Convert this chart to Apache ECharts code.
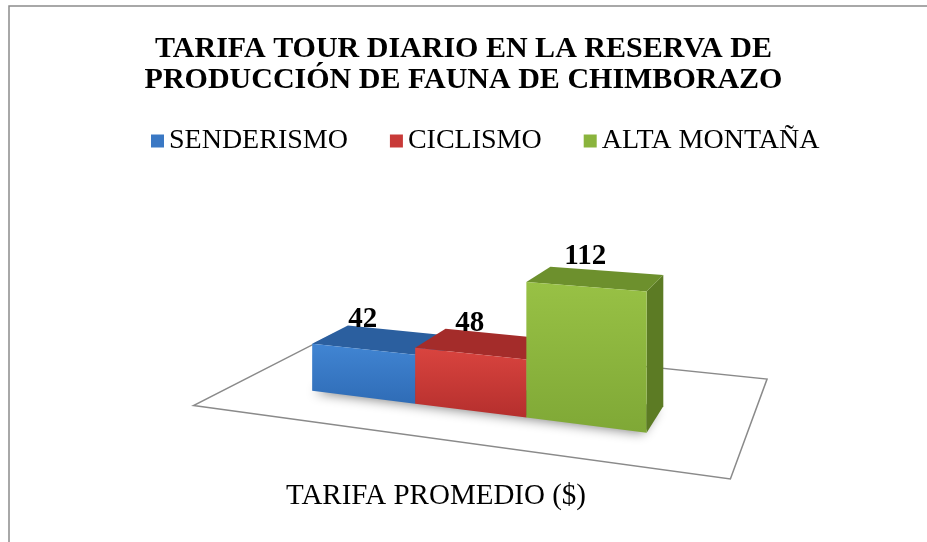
<!DOCTYPE html>
<html>
<head>
<meta charset="utf-8">
<script src="https://cdn.jsdelivr.net/npm/echarts@6/dist/echarts.min.js"></script>
<style>
  html, body { margin: 0; padding: 0; background: #ffffff; }
  #chart { width: 927px; height: 542px; }
</style>
</head>
<body>
<div id="chart"></div>
<script>
// Chart data
const chartTitle = 'TARIFA TOUR DIARIO EN LA RESERVA DE\nPRODUCCIÓN DE FAUNA DE CHIMBORAZO';
const categories = ['TARIFA PROMEDIO ($)'];
const seriesNames = ['SENDERISMO', 'CICLISMO', 'ALTA MONTAÑA'];
const senderismo = [42];
const ciclismo = [48];
const altaMontana = [112];
const valueMax = 120;

// Face colours per series: front, top, side
const palette = [
  { front: ['#4185d3', '#2f6cb6'], top: '#2b5f9f', side: '#24548d', legend: '#3a78c4' },
  { front: ['#d9443f', '#b52f2d'], top: '#a42c2a', side: '#8f2523', legend: '#c83a38' },
  { front: ['#98c145', '#7fa836'], top: '#6d902d', side: '#5c7b24', legend: '#8ab43d' }
];

const FONT = '"Liberation Serif", "Times New Roman", serif';

// Simple two-point perspective camera for the 3D look
const CAM = { cx: 463, cy: 51, f: 1103, h: 1, yaw: Math.atan(0.385) };
const SCENE = {
  xCenter: -1.085,      // world x of the category centre
  floorWidth: 1.484,    // world width covered by one category band
  barShare: 0.668,      // share of the band used by the bar group
  floorZ: [2.63, 3.47],
  barZ: [2.87, 3.10],
  unitHeight: 0.0033    // world height of one value unit
};

function project(X, Y, Z) {
  const c = Math.cos(CAM.yaw), s = Math.sin(CAM.yaw);
  const xc = X * c + Z * s;
  const zc = -X * s + Z * c;
  return [CAM.cx + CAM.f * xc / zc, CAM.cy + CAM.f * (CAM.h - Y) / zc];
}

function worldFrame(api, catIndex) {
  const base = api.coord([catIndex, 0]);
  const band = api.size([1, 0])[0];
  const unitPx = api.size([0, 1])[1];
  return {
    base: base,
    band: band,
    kx: SCENE.floorWidth / band,
    ky: SCENE.unitHeight / unitPx
  };
}

function floorRender(params, api) {
  const fr = worldFrame(api, api.value(0));
  const half = fr.band / 2 * fr.kx;
  const xa = SCENE.xCenter - half, xb = SCENE.xCenter + half;
  const [z0, z1] = SCENE.floorZ;
  const floor = [project(xa, 0, z0), project(xb, 0, z0), project(xb, 0, z1), project(xa, 0, z1)];
  const g = fr.band * SCENE.barShare / 2 * fr.kx;
  const ga = SCENE.xCenter - g + 0.01, gb = SCENE.xCenter + g - 0.005;
  const [bz0, bz1] = SCENE.barZ;
  const foot = [project(ga, 0, bz0 + 0.02), project(gb, 0, bz0 + 0.02),
                project(gb, 0, bz1), project(ga, 0, bz1)];
  return {
    type: 'group',
    children: [
      { type: 'polygon', shape: { points: floor },
        style: { fill: '#ffffff', stroke: '#8a8a8a', lineWidth: 1.5 } },
      { type: 'polygon', shape: { points: foot },
        style: { fill: 'rgba(60,60,60,0.7)', shadowBlur: 12, shadowColor: 'rgba(0,0,0,0.7)',
                 shadowOffsetX: -4, shadowOffsetY: 3 } }
    ]
  };
}

function barRender(idx) {
  return function (params, api) {
    const cat = api.value(0);
    const val = api.value(1);
    const fr = worldFrame(api, cat);
    const top = api.coord([cat, val]);
    const groupW = fr.band * SCENE.barShare;
    const x0 = fr.base[0] - groupW / 2 + groupW / 3 * idx;
    const x1 = x0 + groupW / 3;
    const X0 = SCENE.xCenter + (x0 - fr.base[0]) * fr.kx;
    const X1 = SCENE.xCenter + (x1 - fr.base[0]) * fr.kx;
    const Y = (fr.base[1] - top[1]) * fr.ky;
    const [Zf, Zb] = SCENE.barZ;
    const c = palette[idx];
    const front = [project(X0, 0, Zf), project(X1, 0, Zf), project(X1, Y, Zf), project(X0, Y, Zf)];
    const topFace = [project(X0, Y, Zf), project(X1, Y, Zf), project(X1, Y, Zb), project(X0, Y, Zb)];
    const side = [project(X1, 0, Zf), project(X1, 0, Zb), project(X1, Y, Zb), project(X1, Y, Zf)];
    const labelPt = project((X0 + X1) / 2, Y, Zf);
    return {
      type: 'group',
      children: [
        { type: 'polygon', shape: { points: side }, style: { fill: c.side } },
        { type: 'polygon', shape: { points: topFace }, style: { fill: c.top } },
        { type: 'polygon', shape: { points: front },
          style: { fill: new echarts.graphic.LinearGradient(0, 0, 0, 1, [
            { offset: 0, color: c.front[0] }, { offset: 1, color: c.front[1] }]) } },
        { type: 'text', x: labelPt[0], y: labelPt[1] - 30,
          style: { text: String(val), fill: '#000', fontFamily: FONT, fontWeight: 'bold',
                   fontSize: 29, align: 'center', verticalAlign: 'middle' } }
      ]
    };
  };
}

const valueSets = [senderismo, ciclismo, altaMontana];

const series = [{
  type: 'custom',
  name: 'floor',
  silent: true,
  renderItem: floorRender,
  data: categories.map((c, i) => [i, 0]),
  z: 1
}].concat(seriesNames.map((name, idx) => ({
  type: 'custom',
  name: name,
  renderItem: barRender(idx),
  itemStyle: { color: palette[idx].legend },
  data: valueSets[idx].map((v, i) => [i, v]),
  z: 2
})));

const chart = echarts.init(document.getElementById('chart'), null, { renderer: 'canvas' });
chart.setOption({
  animation: false,
  backgroundColor: '#ffffff',
  title: {
    text: chartTitle,
    left: 'center',
    top: 29,
    textStyle: { fontFamily: FONT, fontWeight: 'bold', fontSize: 30, lineHeight: 31, color: '#000' }
  },
  legend: {
    data: seriesNames,
    left: 146,
    top: 122,
    icon: 'rect',
    itemWidth: 13,
    itemHeight: 13,
    itemGap: 42,
    textStyle: { fontFamily: FONT, fontSize: 28, color: '#000' }
  },
  grid: { left: 236, width: 400, top: 200, bottom: 62 },
  xAxis: {
    type: 'category',
    data: categories,
    axisLine: { show: false },
    axisTick: { show: false },
    axisLabel: { fontFamily: FONT, fontSize: 29, color: '#000', margin: 2 }
  },
  yAxis: { type: 'value', min: 0, max: valueMax, show: false },
  graphic: [{
    type: 'rect',
    shape: { x: 9, y: 6, width: 1200, height: 1200 },
    style: { fill: 'none', stroke: '#8c8c8c', lineWidth: 1.5 },
    silent: true
  }],
  series: series
});
</script>
</body>
</html>
